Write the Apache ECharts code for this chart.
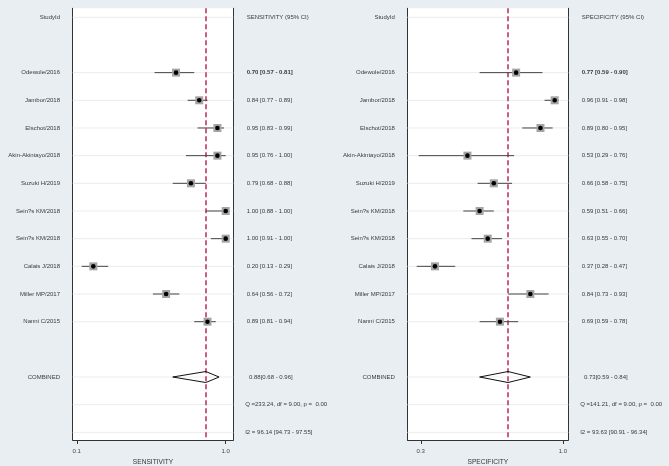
<!DOCTYPE html>
<html><head><meta charset="utf-8">
<script src="https://cdn.jsdelivr.net/npm/echarts@6/dist/echarts.min.js"></script>
<style>html,body{margin:0;padding:0;background:#e8eef2}#c{width:669px;height:466px}</style>
</head><body><div id="c"></div>
<script>
// ---- data ----
const studies = ['Odewole/2016','Jambor/2018','Elschot/2018','Akin-Akintayo/2018','Suzuki H/2019','Sein?s KM/2018','Sein?s KM/2018','Calais J/2018','Miller MP/2017','Nanni C/2015'];
const sens   = [0.70,0.84,0.95,0.95,0.79,1.00,1.00,0.20,0.64,0.89];
const sensLo = [0.57,0.77,0.83,0.76,0.68,0.88,0.91,0.13,0.56,0.81];
const sensHi = [0.81,0.89,0.99,1.00,0.88,1.00,1.00,0.29,0.72,0.94];
const spec   = [0.77,0.96,0.89,0.53,0.66,0.59,0.63,0.37,0.84,0.69];
const specLo = [0.59,0.91,0.80,0.29,0.58,0.51,0.55,0.28,0.73,0.59];
const specHi = [0.90,0.98,0.95,0.76,0.75,0.66,0.70,0.47,0.93,0.78];
const sensPooled = [0.88,0.68,0.96];
const specPooled = [0.73,0.59,0.84];
const sensQ  = [233.24,9.00,0.00];
const specQ  = [141.21,9.00,0.00];
const sensI2 = [96.14,94.73,97.55];
const specI2 = [93.63,90.91,96.34];
const sensTicks = [0.1,1.0];
const specTicks = [0.3,1.0];
const sensTitle = 'SENSITIVITY';
const specTitle = 'SPECIFICITY';
const idHeader = 'StudyId';
const combinedLabel = 'COMBINED';

// ---- layout ----
const FONT = "'Liberation Sans', Arial, sans-serif";
const TXT = '#3a3a3a';
const f2 = v => v.toFixed(2);
const ROW_MIN = -0.325, ROW_MAX = 15.276;

function rowsFor(title, est, lo, hi, pooled, q, i2) {
  const rows = [{row:0, left:idHeader, right:title + ' (95% CI)', dx:0}];
  studies.forEach((s,i) => rows.push({row:i+2, left:s, right:`${f2(est[i])} [${f2(lo[i])} - ${f2(hi[i])}]`, dx:0, bold:i===0}));
  rows.push({row:13, left:combinedLabel, right:`${f2(pooled[0])}[${f2(pooled[1])} - ${f2(pooled[2])}]`, dx:2.3});
  rows.push({row:14, left:'', right:`Q =${f2(q[0])}, df = ${f2(q[1])}, p =  ${f2(q[2])}`, dx:-1.5});
  rows.push({row:15, left:'', right:`I2 = ${f2(i2[0])} [${f2(i2[1])} - ${f2(i2[2])}]`, dx:-1.5});
  return rows;
}

function panel(g, title, est, lo, hi, pooled, q, i2) {
  const rows = rowsFor(title, est, lo, hi, pooled, q, i2);
  const textSeries = {
    type:'custom', xAxisIndex:g, yAxisIndex:g*2, clip:false, silent:true, z:1,
    data: rows.map(r => [0, r.row]),
    renderItem(params, api) {
      const r = rows[params.dataIndex];
      const cs = params.coordSys;
      const y = api.coord([api.value(0), r.row])[1];
      const kids = [
        {type:'line', shape:{x1:cs.x, y1:y, x2:cs.x+cs.width, y2:y}, style:{stroke:'#e9edef', lineWidth:1}},
        {type:'text', x:cs.x-12.7, y:y, style:{text:r.left, fill:TXT, fontSize:6, fontFamily:FONT, align:'right', verticalAlign:'middle'}},
        {type:'text', x:cs.x+cs.width+13.4+r.dx, y:y, style:{text:r.right, fill:TXT, fontSize:6, fontFamily:FONT, fontWeight:r.bold?'bold':'normal', align:'left', verticalAlign:'middle'}}
      ];
      return {type:'group', children:kids};
    }
  };
  const ciSeries = {
    type:'custom', xAxisIndex:g, yAxisIndex:g*2, clip:false, z:3,
    data: studies.map((s,i) => [est[i], lo[i], hi[i], i+2]),
    renderItem(params, api) {
      const p = api.coord([api.value(0), api.value(3)]);
      const a = api.coord([api.value(1), api.value(3)]);
      const b = api.coord([api.value(2), api.value(3)]);
      return {type:'group', children:[
        {type:'line', shape:{x1:a[0], y1:a[1], x2:b[0], y2:b[1]}, style:{stroke:'#444', lineWidth:1}},
        {type:'rect', shape:{x:p[0]-4, y:p[1]-4, width:8, height:8}, style:{fill:'#a4a4a4'}},
        {type:'circle', shape:{cx:p[0], cy:p[1], r:2.3}, style:{fill:'#000'}}
      ]};
    },
    markLine: {
      silent:true, symbol:'none', label:{show:false}, z:2,
      lineStyle:{color:'#c6416b', width:1.7, type:[5,3]},
      data:[{xAxis:pooled[0]}]
    }
  };
  const diamond = {
    type:'custom', xAxisIndex:g, yAxisIndex:g*2, clip:false, z:4,
    data:[[pooled[0], pooled[1], pooled[2], 13]],
    renderItem(params, api) {
      const p = api.coord([api.value(0), api.value(3)]);
      const a = api.coord([api.value(1), api.value(3)]);
      const b = api.coord([api.value(2), api.value(3)]);
      return {type:'polygon', shape:{points:[[a[0],p[1]],[p[0],p[1]-5.5],[b[0],p[1]],[p[0],p[1]+5.5]]},
        style:{fill:'none', stroke:'#111', lineWidth:1}};
    }
  };
  return [textSeries, ciSeries, diamond];
}

const chart = echarts.init(document.getElementById('c'), null, {renderer:'canvas'});
const axisX = (g, min, max, ticks, name) => ({
  gridIndex:g, type:'value', min, max,
  axisLine:{show:true, onZero:false, lineStyle:{color:'#333', width:1}},
  axisTick:{show:true, customValues:ticks, length:4, lineStyle:{color:'#333'}},
  axisLabel:{customValues:ticks, formatter:v=>v.toFixed(1), fontSize:6, color:'#444', fontFamily:FONT, margin:8},
  splitLine:{show:false},
  name, nameLocation:'middle', nameGap:13,
  nameTextStyle:{fontSize:6.6, color:'#333', fontFamily:FONT}
});
const axisY = (g, pos) => ({
  gridIndex:g, type:'value', min:ROW_MIN, max:ROW_MAX, inverse:true, position:pos,
  axisLine:{show:true, lineStyle:{color:'#333', width:1}},
  axisTick:{show:false}, axisLabel:{show:false}, splitLine:{show:false}
});
chart.setOption({
  backgroundColor:'#e8eef2',
  animation:false,
  grid:[
    {left:72.7, top:8.3, width:160.6, height:431.7, show:true, backgroundColor:'#fff', borderWidth:0, containLabel:false, outerBoundsMode:'none'},
    {left:407.5, top:8.3, width:160.8, height:431.7, show:true, backgroundColor:'#fff', borderWidth:0, containLabel:false, outerBoundsMode:'none'}
  ],
  xAxis:[axisX(0, 0.0755, 1.0459, sensTicks, sensTitle), axisX(1, 0.2346, 1.0271, specTicks, specTitle)],
  yAxis:[axisY(0,'left'), axisY(0,'right'), axisY(1,'left'), axisY(1,'right')],
  series:[
    ...panel(0, sensTitle, sens, sensLo, sensHi, sensPooled, sensQ, sensI2),
    ...panel(1, specTitle, spec, specLo, specHi, specPooled, specQ, specI2)
  ]
});
</script>
</body></html>
